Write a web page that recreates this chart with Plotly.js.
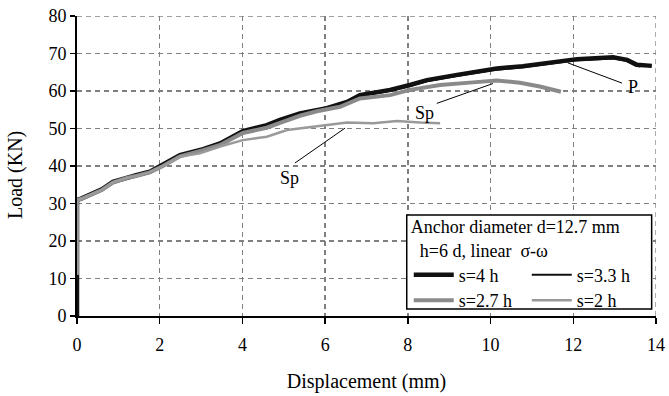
<!DOCTYPE html>
<html>
<head>
<meta charset="utf-8">
<script src="https://cdn.plot.ly/plotly-3.0.1.min.js"></script>
<style>html,body{margin:0;padding:0;background:#fff;}#chart{width:669px;height:396px;}</style>
</head>
<body>
<div id="chart"></div>
<script>
// Data
const s4_x = [0, 0, 0.1, 0.31, 0.6, 0.87, 1.2, 1.45, 1.76, 2.08, 2.49, 3.05, 3.46, 4.01, 4.59, 4.91, 5.39, 6.04, 6.53, 6.84, 7.57, 8.05, 8.46, 9.19, 9.74, 10.15, 10.78, 11.6, 12.09, 12.96, 13.3, 13.54, 13.9];
const s4_y = [0, 31, 31.3, 32.3, 33.8, 35.8, 37, 37.6, 38.5, 40.3, 42.9, 44.5, 46, 49.3, 50.9, 52.3, 54.0, 55.4, 57.1, 58.9, 60.3, 61.6, 62.9, 64.3, 65.2, 66.0, 66.6, 67.8, 68.5, 69.0, 68.3, 67.0, 66.7];
const s33_x = [0, 0, 0.1, 0.31, 0.6, 0.87, 1.2, 1.45, 1.76, 2.08, 2.49, 3.05, 3.46, 4.01, 4.59, 4.91, 5.39, 6.04, 6.53, 6.84, 7.57, 8.05, 8.46, 9.19, 9.74, 10.15, 10.78, 11.6, 12.09, 12.96, 13.3, 13.5, 13.62];
const s33_y = [0, 31, 31.2, 32.2, 33.7, 35.7, 36.9, 37.5, 38.4, 40.2, 42.8, 44.3, 45.8, 49.0, 50.6, 52.0, 53.7, 55.1, 56.8, 58.6, 60.0, 61.3, 62.6, 64.0, 64.9, 65.7, 66.3, 67.5, 68.2, 68.7, 68.0, 66.8, 66.5];
const s27_x = [0, 0, 0.1, 0.31, 0.6, 0.87, 1.2, 1.45, 1.76, 2.08, 2.49, 3.05, 3.46, 4.01, 4.59, 4.91, 5.39, 5.8, 6.36, 6.84, 7.57, 8.05, 8.78, 9.57, 10.15, 10.71, 11.19, 11.7];
const s27_y = [11, 31, 31.2, 32.2, 33.6, 35.6, 36.8, 37.4, 38.3, 40.0, 42.6, 44.2, 45.6, 48.8, 50.2, 51.5, 53.4, 54.6, 55.8, 58.0, 58.9, 60.3, 61.6, 62.3, 62.8, 62.2, 61.2, 59.8];
const s2_x = [0, 0, 0.1, 0.31, 0.6, 0.87, 1.2, 1.45, 1.76, 2.08, 2.49, 2.97, 3.46, 4.01, 4.59, 5.08, 5.8, 6.53, 7.16, 7.74, 8.3, 8.78];
const s2_y = [11, 31, 31.2, 32.2, 33.6, 35.6, 36.8, 37.4, 38.3, 40.0, 42.5, 43.4, 45.2, 46.9, 47.8, 49.6, 50.5, 51.6, 51.4, 52.0, 51.6, 51.4];
const names = ["s=4 h", "s=3.3 h", "s=2.7 h", "s=2 h"];
const xTicks = [0, 2, 4, 6, 8, 10, 12, 14];
const yTicks = [0, 10, 20, 30, 40, 50, 60, 70, 80];

const font = {family: "Liberation Serif", size: 18, color: "#000"};
const titleFont = {family: "Liberation Serif", size: 20, color: "#000"};

const traces = [
  {x: s4_x, y: s4_y, name: names[0], legend: "legend", mode: "lines", line: {color: "#111", width: 4.5}},
  {x: s33_x, y: s33_y, name: names[1], legend: "legend", mode: "lines", line: {color: "#111", width: 2}},
  {x: s27_x, y: s27_y, name: names[2], legend: "legend2", mode: "lines", line: {color: "#8a8a8a", width: 4}},
  {x: s2_x, y: s2_y, name: names[3], legend: "legend2", mode: "lines", line: {color: "#9a9a9a", width: 2.5}}
];

const grid = {showgrid: true, gridcolor: "#808080", griddash: "5px,4px", gridwidth: 1.3};

const legBase = {
  xanchor: "left", yanchor: "top", orientation: "h",
  entrywidth: 63, entrywidthmode: "pixels", itemwidth: 40,
  bgcolor: "rgba(0,0,0,0)", borderwidth: 0, font: font, traceorder: "normal"
};

const layout = {
  width: 669, height: 396,
  margin: {l: 77, r: 13, t: 16, b: 80},
  paper_bgcolor: "#fff", plot_bgcolor: "#fff",
  font: font,
  showlegend: true,
  xaxis: Object.assign({
    range: [0, 14], tickvals: xTicks, ticks: "outside", ticklen: 6, tickcolor: "#000", tickwidth: 1.5,
    showline: true, linecolor: "#000", linewidth: 2, zeroline: false,
    ticklabelstandoff: 5,
    title: {text: "Displacement (mm)", font: titleFont, standoff: 20},
    tickfont: font
  }, grid),
  yaxis: Object.assign({
    range: [0, 80], tickvals: yTicks, ticks: "outside", ticklen: 5, tickcolor: "#000", tickwidth: 1.5,
    showline: true, linecolor: "#000", linewidth: 2, zeroline: false,
    tickfont: font
  }, grid),
  legend: Object.assign({}, legBase, {
    x: 0.573, y: 0.354,
    title: {text: "Anchor diameter d=12.7 mm<br>  h=6 d, linear  σ-ω", font: font, side: "top"}
  }),
  legend2: Object.assign({}, legBase, {x: 0.573, y: 0.113}),
  shapes: [
    {type: "line", xref: "x", yref: "paper", x0: 14, x1: 14, y0: 0, y1: 1, line: {color: "#808080", width: 1.3, dash: "5px,4px"}},
    {type: "line", xref: "paper", yref: "y", x0: 0, x1: 1, y0: 80, y1: 80, line: {color: "#808080", width: 1.3, dash: "5px,4px"}},
    {type: "rect", xref: "paper", yref: "paper", x0: 0.5695, x1: 0.9925, y0: 0.023, y1: 0.337, layer: "above", fillcolor: "#fff", line: {color: "#000", width: 1.5}},
    {type: "line", xref: "x", yref: "y", x0: 11.87, y0: 67.5, x1: 13.18, y1: 62.1, line: {color: "#000", width: 1}},
    {type: "line", xref: "x", yref: "y", x0: 8.70, y0: 56.7, x1: 10.06, y1: 62.0, line: {color: "#000", width: 1}},
    {type: "line", xref: "x", yref: "y", x0: 5.27, y0: 40.8, x1: 6.48, y1: 50.1, line: {color: "#000", width: 1}}
  ],
  annotations: [
    {x: -0.107, y: 0.47, xref: "paper", yref: "paper", xanchor: "center", yanchor: "middle", text: "Load (KN)", textangle: -90, showarrow: false, font: titleFont},
    {x: 13.44, y: 61, xref: "x", yref: "y", text: "P", showarrow: false, font: font},
    {x: 8.41, y: 54.1, xref: "x", yref: "y", text: "Sp", showarrow: false, font: font},
    {x: 5.15, y: 36.8, xref: "x", yref: "y", text: "Sp", showarrow: false, font: font}
  ]
};

Plotly.newPlot("chart", traces, layout, {displayModeBar: false, staticPlot: true});
</script>
</body>
</html>
